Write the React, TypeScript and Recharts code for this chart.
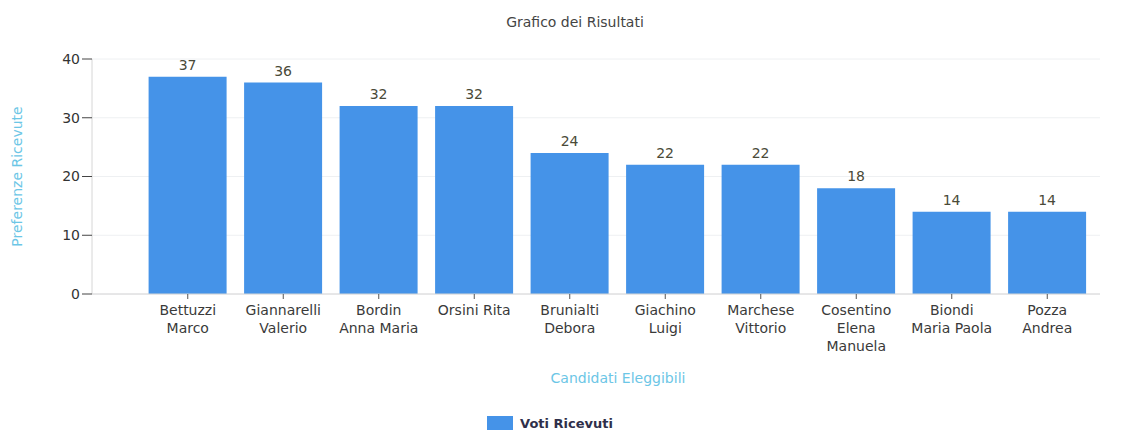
import { Bar, BarChart, CartesianGrid, LabelList, Legend, XAxis, YAxis } from "recharts";

const candidates = [
  "Bettuzzi\nMarco",
  "Giannarelli\nValerio",
  "Bordin\nAnna Maria",
  "Orsini Rita",
  "Brunialti\nDebora",
  "Giachino\nLuigi",
  "Marchese\nVittorio",
  "Cosentino\nElena\nManuela",
  "Biondi\nMaria Paola",
  "Pozza\nAndrea",
];
const votes = [37, 36, 32, 32, 24, 22, 22, 18, 14, 14];
const yTicks = [0, 10, 20, 30, 40];

const data = candidates.map((name, i) => ({ name, votes: votes[i] }));

const font = "'DejaVu Sans', sans-serif";

function CandidateTick({ x, y, payload }: any) {
  const lines = String(payload.value).split("\n");
  return (
    <text x={x} y={y + 14} textAnchor="middle" fill="#3a3a3a" fontSize={14} fontFamily={font}>
      {lines.map((line, i) => (
        <tspan key={i} x={x} dy={i === 0 ? 0 : 18}>{line}</tspan>
      ))}
    </text>
  );
}

function VotesLegend() {
  return (
    <div style={{ display: "flex", justifyContent: "center", alignItems: "center", height: 18, fontFamily: font, fontSize: 13, fontWeight: 600, color: "#2f2f4a" }}>
      <span style={{ display: "inline-block", width: 26, height: 14, background: "#4593e8", marginRight: 7 }} />
      Voti Ricevuti
    </div>
  );
}

export default function App() {
  return (
    <div style={{ position: "absolute", left: 0, top: 0, width: 1132, height: 432, background: "#fff", fontFamily: font }}>
      <div style={{ position: "absolute", top: 14, left: 0, width: 1150, textAlign: "center", fontSize: 14, color: "#444" }}>
        Grafico dei Risultati
      </div>
      <BarChart width={1132} height={432} data={data} margin={{ top: 59, right: 32, left: 0, bottom: 0 }} barCategoryGap="9%">
        <CartesianGrid vertical={false} stroke="#eef0f2" />
        <XAxis
          dataKey="name"
          height={120}
          interval={0}
          tick={<CandidateTick />}
          tickSize={5}
          padding={{ left: 48, right: 5 }}
          axisLine={{ stroke: "#d6d6d6" }}
          tickLine={{ stroke: "#555" }}
          label={{ value: "Candidati Eleggibili", position: "insideTop", dy: 74, dx: 22, fill: "#6cc6e6", fontSize: 14, fontFamily: font }}
        />
        <YAxis
          width={92}
          domain={[0, 40]}
          ticks={yTicks}
          tickSize={10}
          axisLine={{ stroke: "#d6d6d6" }}
          tickLine={{ stroke: "#444" }}
          tick={{ fill: "#333", fontSize: 14, fontFamily: font }}
          label={{ value: "Preferenze Ricevute", angle: -90, position: "insideLeft", dx: 12, fill: "#6cc6e6", fontSize: 14, fontFamily: font, style: { textAnchor: "middle" } }}
        />
        <Legend verticalAlign="bottom" content={<VotesLegend />} />
        <Bar dataKey="votes" name="Voti Ricevuti" fill="#4593e8" isAnimationActive={false}>
          <LabelList dataKey="votes" position="top" offset={7} fill="#4a4a38" fontSize={14} fontFamily={font} />
        </Bar>
      </BarChart>
    </div>
  );
}
